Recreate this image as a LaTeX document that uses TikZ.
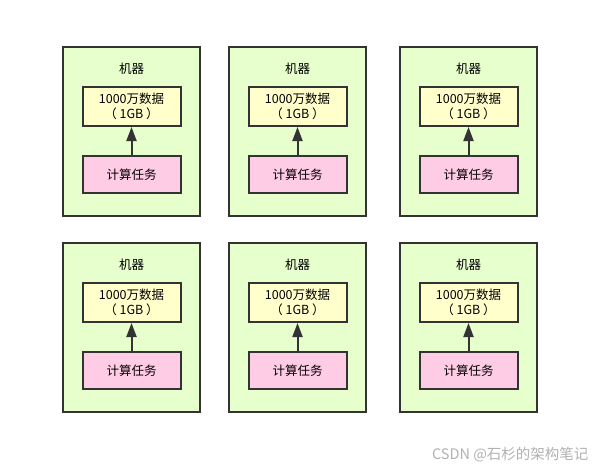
\documentclass[tikz,border=0pt]{standalone}
\usepackage{fontspec}
\setmainfont{Noto Sans CJK SC}
\usetikzlibrary{arrows.meta}
\definecolor{mach}{HTML}{E6FFCC}
\definecolor{dat}{HTML}{FFFFCC}
\definecolor{task}{HTML}{FFCCE6}
\definecolor{edge}{HTML}{333333}
\tikzset{
 machbox/.style={draw=edge,line width=2pt,fill=mach,minimum width=137pt,minimum height=169pt,inner sep=0pt},
 datbox/.style={draw=edge,line width=2pt,fill=dat,minimum width=98pt,minimum height=39pt,inner sep=0pt,align=center,font=\fontsize{12.5}{15}\selectfont},
 taskbox/.style={draw=edge,line width=2pt,fill=task,minimum width=98pt,minimum height=37pt,inner sep=0pt,font=\fontsize{12.5}{15}\selectfont},
 lbl/.style={font=\fontsize{12.5}{15}\selectfont,text=black},
 arr/.style={draw=edge,line width=2pt,-{Triangle[length=14pt,width=10pt]}}
}
\begin{document}
\begin{tikzpicture}[x=1pt,y=-1pt]
\useasboundingbox[fill=white] (0,0) rectangle (607,474);
\foreach \cx/\r/\cy [count=\i] in {131.5/a/0,297.5/b/0,468.5/c/0,131.5/d/196,297.5/e/196,468.5/f/196}{
 \node[machbox] (m\r) at (\cx,131.5+\cy) {};
 \node[lbl] (l\r) at (\cx,69+\cy) {机器};
 \node[datbox] (d\r) at (\cx,106.5+\cy) {1000万数据\\（ 1GB ）};
 \node[taskbox] (t\r) at (\cx,174.5+\cy) {计算任务};
 \draw[arr] (t\r.north) -- (d\r.south);
}
\node[font=\fontsize{14.5}{16}\selectfont,text=gray!60,anchor=east] (wm) at (592,455) {CSDN @石杉的架构笔记};
\end{tikzpicture}
\end{document}
